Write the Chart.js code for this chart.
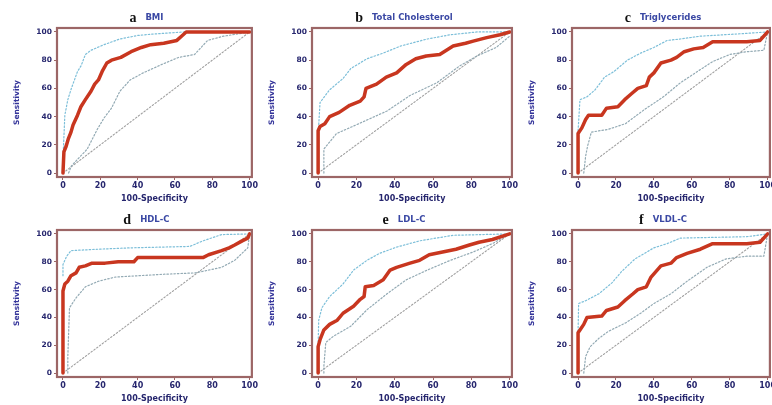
<!DOCTYPE html>
<html>
<head>
<meta charset="utf-8">
<script src="https://cdn.jsdelivr.net/npm/chart.js@4.4.0/dist/chart.umd.min.js"></script>
<style>
  html, body { margin: 0; padding: 0; background: #fff; width: 772px; height: 405px; overflow: hidden; }
  canvas { position: absolute; }
</style>
</head>
<body>
<script>
// tick labels
const xTickLabels = ['0', '20', '40', '60', '80', '100'];
const yTickLabels = ['0', '20', '40', '60', '80', '100'];
const tickValues  = [0, 20, 40, 60, 80, 100];

// [100-specificity, sensitivity]
const diagonal = [[0, 0], [100, 100]];

const bmiRoc   = [[0,0],[0.5,15],[1.7,19],[2.8,24],[4.3,29],[5.4,34],[7.8,41],[9.6,47],[12,52],[15,58],[17,63],[19,66],[21,72],[23.5,78],[26,80],[31,82],[36.5,86],[42,89],[47,91],[54,92],[61,94],[63.5,97],[66,100],[100,100]];
const bmiUpper = [[0,10],[1,41],[2.6,52],[4.5,60],[7.8,72],[9.7,76],[12,84],[15,87],[22,91],[30.5,95],[40,97.5],[48,98.5],[65,100],[100,100]];
const bmiLower = [[3,0],[4.5,5],[8,10],[13,17],[18.4,31],[22,39],[26,46],[30.5,58],[36,66],[43,71],[53,77],[62,82],[70.5,84],[74,89],[77.5,94],[86,97],[100,100]];

const tcRoc   = [[0,0],[0,30],[1,33],[3.5,35],[6,40],[11,43],[16.5,48],[22,51],[24,54],[25,60],[30.5,63],[35.6,68],[41,71],[46,77],[51,81],[56.5,83],[63.5,84],[67,87],[70.5,90],[77,92],[81,93.5],[88,96],[95,98],[100,100]];
const tcUpper = [[0,27],[1,50],[6,59],[13,67],[17,74],[25.5,81],[34,85],[43,90],[57,95],[69,98],[83,100],[100,100]];
const tcLower = [[3,0],[3,17],[9.6,28],[18,33],[36,44],[48,55],[62,64],[74,76],[83,83],[93,89],[100,97]];

const tgRoc   = [[0,0],[0,28],[2,32],[4,38],[5.5,41],[12.5,41],[15,46],[21,47],[24.6,52],[28,56],[31.5,60],[36,62],[37.6,68],[40,71],[43.7,78],[49,80],[52,82],[56,86],[61,88],[66,89],[71,93],[78,93],[89,93],[96,94],[100,100]];
const tgUpper = [[0,30],[1,52],[4.7,54],[9,59],[14,68],[19,72],[26,80],[33,85],[40,89],[47,94],[54,95],[64.5,97],[89,99],[100,100]];
const tgLower = [[3,0],[4,12],[5,19],[7,29],[16,31],[25,35],[35,45],[45,54],[54,64],[63,72],[71,79],[80,84],[89,86],[98,87],[100,100]];

const hdlRoc   = [[0,0],[0,59],[1,64],[2.6,66],[4.3,70],[7,72],[8.7,76],[12,77],[15.6,79],[22.6,79],[29.6,80],[38,80],[40,83],[54,83],[75,83],[78,85],[85,88],[89,90],[92,92],[96,95],[99,97],[100,100]];
const hdlUpper = [[0,70],[0,78],[2,84],[4.3,88],[19,89],[36.5,90],[68,91],[75,95],[85,99.5],[100,100]];
const hdlLower = [[2.6,0],[2.6,12],[3.5,47],[7,54],[12,62],[19,66],[28,69],[54,71],[71,72],[85,76],[92,81],[99,90],[100,100]];

const ldlRoc   = [[0,0],[0,19],[1,24],[3,31],[6,35],[10,38],[13,43],[18.5,48],[22,53],[24,55],[24.6,62],[29,63],[34,67],[37.6,74],[41,76],[48,79],[53,81],[58,85],[65,87],[72,89],[79,92],[84,94],[91,96],[100,100]];
const ldlUpper = [[0,20],[0.3,38],[2,47],[6,55],[13,64],[18.5,74],[25.5,81],[32,86],[41,90.5],[53,95],[70.5,99],[100,100]];
const ldlLower = [[3,0],[3,5],[4,22],[8,26.5],[17,33.6],[25.5,45.5],[36,57],[46,67],[57,74],[69,81],[81,87],[91,93],[100,100]];

const vldlRoc   = [[0,0],[0,29],[1,31],[3,35],[4.7,40],[12.5,41],[15,45],[21,47.5],[24.6,52],[29,57],[31.5,60],[36,62],[38.5,69],[43.7,77],[49,79],[52,83],[57.5,86],[64.5,89],[71,93],[89,93],[96,94],[100,100]];
const vldlUpper = [[0,30],[0.3,50],[4,52],[11,57],[18,65],[23,73],[30,82],[35,86],[40,90],[47,93],[54,97],[89,98],[100,100]];
const vldlLower = [[3,0],[4,12],[6.4,19],[11,25],[16,30],[25,36],[33,43],[40,50],[49,57],[57.5,66],[68,76],[78,82],[89,84],[98,84],[100,100]];

const panels = [
  { letter: 'a', name: 'BMI',               roc: bmiRoc,  upper: bmiUpper,  lower: bmiLower,  left: 5,   top: 0,   w: 200, h: 149 },
  { letter: 'b', name: 'Total Cholesterol', roc: tcRoc,   upper: tcUpper,   lower: tcLower,   left: 260, top: 0,   w: 205, h: 149 },
  { letter: 'c', name: 'Triglycerides',     roc: tgRoc,   upper: tgUpper,   lower: tgLower,   left: 520, top: 0,   w: 203, h: 149 },
  { letter: 'd', name: 'HDL-C',             roc: hdlRoc,  upper: hdlUpper,  lower: hdlLower,  left: 5,   top: 202, w: 200, h: 147 },
  { letter: 'e', name: 'LDL-C',             roc: ldlRoc,  upper: ldlUpper,  lower: ldlLower,  left: 260, top: 202, w: 205, h: 147 },
  { letter: 'f', name: 'VLDL-C',            roc: vldlRoc, upper: vldlUpper, lower: vldlLower, left: 520, top: 202, w: 203, h: 147 },
];

const AXIS_W = 52, TOP_PAD = 28, AXIS_H = 28, RIGHT_PAD = 2;
const FRAME = '#9c6666';
const TEXT  = '#26266e';

const toXY = arr => arr.map(p => ({ x: p[0], y: p[1] }));

const framePlugin = {
  id: 'frame',
  afterDraw(chart, args, opts) {
    const { ctx, chartArea: a } = chart;
    ctx.save();
    ctx.strokeStyle = FRAME;
    ctx.lineWidth = 2.2;
    ctx.strokeRect(a.left, a.top, a.right - a.left, a.bottom - a.top);
    // title: bold serif letter + blue name
    ctx.textBaseline = 'middle';
    ctx.font = 'bold 14px "Liberation Serif"';
    const lw = ctx.measureText(opts.letter).width;
    ctx.font = 'bold 8.5px "DejaVu Sans"';
    const nw = ctx.measureText(opts.name).width;
    const gap = 9;
    let x = (a.left + a.right) / 2 - 8 - (lw + gap + nw) / 2;
    const y = a.top - 10;
    ctx.font = 'bold 14px "Liberation Serif"';
    ctx.fillStyle = '#111';
    ctx.textAlign = 'left';
    ctx.fillText(opts.letter, x, y);
    ctx.font = 'bold 8.5px "DejaVu Sans"';
    ctx.fillStyle = '#3a48a4';
    ctx.fillText(opts.name, x + lw + gap, y);
    ctx.restore();
  }
};

panels.forEach(p => {
  const cv = document.createElement('canvas');
  const cw = AXIS_W + p.w + RIGHT_PAD;
  const ch = TOP_PAD + p.h + AXIS_H;
  cv.width = cw; cv.height = ch;
  cv.style.left = p.left + 'px';
  cv.style.top = p.top + 'px';
  cv.style.width = cw + 'px';
  cv.style.height = ch + 'px';
  document.body.appendChild(cv);

  new Chart(cv.getContext('2d'), {
    type: 'line',
    data: {
      datasets: [
        { data: toXY(p.roc), borderColor: '#c8361f', borderWidth: 3.5, order: 0 },
        { data: toXY(p.upper), borderColor: '#7dbfd9', borderWidth: 1.2, borderDash: [1.5, 2], order: 1 },
        { data: toXY(p.lower), borderColor: '#93aab4', borderWidth: 1.2, borderDash: [1.5, 2], order: 2 },
        { data: toXY(diagonal), borderColor: '#a0a0a0', borderWidth: 1.1, borderDash: [1.5, 2], order: 3 },
      ]
    },
    options: {
      responsive: false,
      animation: false,
      events: [],
      elements: { point: { radius: 0 }, line: { tension: 0, borderCapStyle: 'round', borderJoinStyle: 'round' } },
      layout: { padding: { top: TOP_PAD, right: RIGHT_PAD, left: 0, bottom: 0 } },
      plugins: {
        legend: { display: false },
        tooltip: { enabled: false },
        frame: { letter: p.letter, name: p.name }
      },
      scales: {
        x: {
          type: 'linear', min: -3.2, max: 101.2,
          afterBuildTicks: s => { s.ticks = tickValues.map(v => ({ value: v })); },
          afterFit: s => { s.height = AXIS_H; },
          ticks: {
            autoSkip: false, maxRotation: 0, padding: 1, color: TEXT,
            font: { family: 'DejaVu Sans', size: 8, weight: 'bold' },
            callback: (v, i) => xTickLabels[i]
          },
          grid: { drawOnChartArea: false, tickLength: 3, color: FRAME },
          border: { display: false },
          title: {
            display: true, text: '100-Specificity', color: TEXT, padding: { top: 0, bottom: 1 },
            font: { family: 'DejaVu Sans', size: 8, weight: 'bold' }
          }
        },
        y: {
          type: 'linear', min: -2.8, max: 102.8,
          afterBuildTicks: s => { s.ticks = tickValues.map(v => ({ value: v })); },
          afterFit: s => { s.width = AXIS_W; },
          ticks: {
            autoSkip: false, padding: 2, color: TEXT,
            font: { family: 'DejaVu Sans', size: 7.5, weight: 'bold' },
            callback: (v, i) => yTickLabels[i]
          },
          grid: { drawOnChartArea: false, tickLength: 3, color: FRAME },
          border: { display: false },
          title: {
            display: true, text: 'Sensitivity', color: '#34349a', padding: { top: 8, bottom: 0 },
            font: { family: 'DejaVu Sans', size: 7.5, weight: 'bold' }
          }
        }
      }
    },
    plugins: [framePlugin]
  });
});
</script>
</body>
</html>
